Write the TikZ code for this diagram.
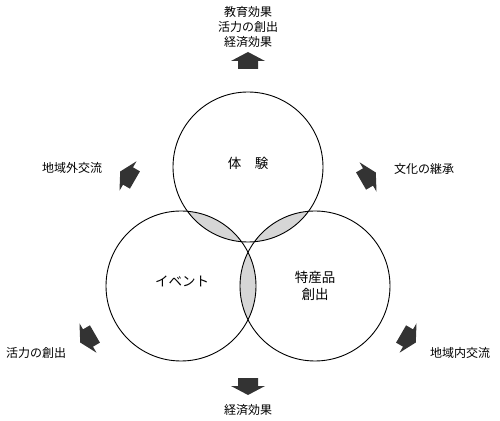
\documentclass[tikz,border=0pt]{standalone}
\usepackage{fontspec}
\setmainfont{Noto Sans CJK JP}
\begin{document}
\begin{tikzpicture}[x=1pt,y=1pt,
  ring/.style={circle,draw,line width=0.9pt,minimum size=150pt,inner sep=0pt},
  lbl/.style={font=\fontsize{12pt}{14pt}\selectfont,inner sep=0pt,align=center},
  inlbl/.style={font=\fontsize{13.5pt}{16pt}\selectfont,inner sep=0pt,align=center},
  lensfill/.style={fill=black!16},
  blockarrow/.pic={\fill[black!80] (-8,-10) -- (0,-10) -- (0,-17) -- (9,0) -- (0,17) -- (0,10) -- (-8,10) -- cycle;}]
\useasboundingbox (0,0) rectangle (500,420);
% lens fills
\begin{scope}
  \clip (248,253) circle (75);
  \fill[lensfill] (181,134) circle (75);
  \fill[lensfill] (315,134) circle (75);
\end{scope}
\begin{scope}
  \clip (181,134) circle (75);
  \fill[lensfill] (315,134) circle (75);
\end{scope}
% circles
\node[ring] (taiken) at (248,253) {};
\node[ring] (event) at (181,134) {};
\node[ring] (tokusan) at (315,134) {};
% circle labels
\node[inlbl] (taikenlbl) at (248,257) {体\quad 験};
\node[inlbl] (eventlbl) at (182,139) {イベント};
\node[inlbl] (tokusanlbl) at (315,134) {特産品\\[1pt]創出};
% arrows
\pic (atop) at (248,359) [rotate=90] {blockarrow};
\pic (abot) at (248,34) [rotate=-90] {blockarrow};
\pic (atl) at (128,244) [rotate=150] {blockarrow};
\pic (atr) at (368,243) [rotate=30] {blockarrow};
\pic (abl) at (88,82) [rotate=210] {blockarrow};
\pic (abr) at (408,82) [rotate=330] {blockarrow};
% outer labels
\node[lbl] (toplbl) at (248,393) {教育効果\\[1pt]活力の創出\\[1pt]経済効果};
\node[lbl] (botlbl) at (248,10) {経済効果};
\node[lbl] (tllbl) at (72,252) {地域外交流};
\node[lbl] (trlbl) at (424,251) {文化の継承};
\node[lbl] (bllbl) at (36,67) {活力の創出};
\node[lbl] (brlbl) at (460,67) {地域内交流};
\end{tikzpicture}
\end{document}
